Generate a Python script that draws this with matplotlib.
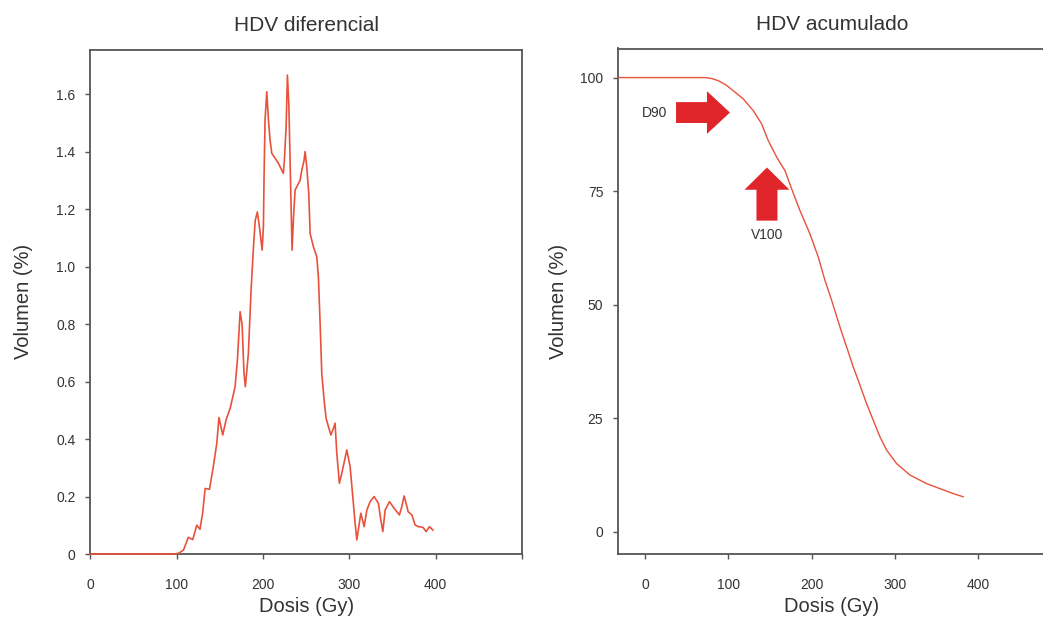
import matplotlib
matplotlib.use("Agg")
import matplotlib.pyplot as plt
from matplotlib.patches import FancyArrow

plt.rcParams['font.family'] = ['Liberation Sans', 'DejaVu Sans']

# ---------------- data ----------------
diff_dose = [0, 96, 102, 108, 113.5, 118.7, 123.3, 127, 130, 133, 138, 142.5, 146.5, 149,
             153.4, 157.2, 162, 167.7, 170.4, 173.5, 175.8, 178, 179.6, 183.1, 186.2, 189,
             191, 193.5, 196.2, 199, 200.5, 201.3, 202.4, 204.4, 206.3, 208.2, 210.2, 217.9,
             223.6, 224.8, 226.8, 228.3, 229.9, 231.4, 232.9, 233.7, 235.2, 237.2, 239.2, 243,
             245, 247.6, 248.8, 250.7, 253, 254.6, 258.4, 262.3, 264.2, 266.2, 268.1, 270.8,
             273.1, 278.6, 281.6, 283.5, 285.5, 288.5, 291.3, 297.1, 300.9, 304, 306.7, 308.7,
             311, 313.3, 317.2, 320.3, 324.1, 328.7, 333.7, 336.5, 338.8, 341.5, 346.5, 351.9,
             358, 360.8, 363.5, 365.8, 368.1, 372.4, 376.2, 380, 385.2, 389, 392.8, 396.8]
diff_vol = [0, 0, 0.002, 0.014, 0.058, 0.05, 0.10, 0.086, 0.14, 0.228, 0.225, 0.304, 0.385, 0.475,
            0.414, 0.466, 0.507, 0.582, 0.675, 0.843, 0.80, 0.628, 0.582, 0.698, 0.918, 1.069,
            1.16, 1.19, 1.13, 1.057, 1.14, 1.324, 1.51, 1.608, 1.51, 1.44, 1.394, 1.359,
            1.324, 1.37, 1.486, 1.666, 1.568, 1.37, 1.162, 1.057, 1.162, 1.266, 1.278, 1.30,
            1.336, 1.37, 1.40, 1.347, 1.255, 1.115, 1.069, 1.034, 0.964, 0.80, 0.628, 0.536,
            0.472, 0.414, 0.437, 0.455, 0.35, 0.246, 0.281, 0.362, 0.304, 0.20, 0.107, 0.049,
            0.095, 0.142, 0.095, 0.153, 0.182, 0.20, 0.176, 0.118, 0.078, 0.153, 0.182, 0.159,
            0.136, 0.165, 0.202, 0.176, 0.147, 0.136, 0.101, 0.095, 0.093, 0.078, 0.095, 0.083]

cum_dose = [-32, 72, 80, 88, 97, 105.9, 117.9, 129.9, 139.9, 147.9, 157.9, 167.9, 175.9, 185.9,
            197.8, 207.8, 215.8, 223.8, 233.8, 241.8, 249.8, 257.8, 265.8, 273.7, 281.8,
            289.7, 301.8, 317.7, 337.7, 353.7, 369.7, 381.7]
cum_vol = [100, 100, 99.8, 99.3, 98.4, 97.1, 95.3, 92.7, 89.8, 86.1, 82.5, 79.5, 75.5, 70.7,
           65.6, 60.5, 55.4, 51.0, 45.1, 40.7, 36.3, 32.3, 28.2, 24.6, 20.9,
           18.0, 15.0, 12.5, 10.6, 9.5, 8.4, 7.7]

left_yticks = [0, 0.2, 0.4, 0.6, 0.8, 1.0, 1.2, 1.4, 1.6]
left_yticklabels = ['0', '0.2', '0.4', '0.6', '0.8', '1.0', '1.2', '1.4', '1.6']
left_xticks = [0, 100, 200, 300, 400, 500]
left_xticklabels = ['0', '100', '200', '300', '400', '']
right_yticks = [0, 25, 50, 75, 100]
right_xticks = [0, 100, 200, 300, 400]

titles = ['HDV diferencial', 'HDV acumulado']
xlabel = 'Dosis (Gy)'
ylabel = 'Volumen (%)'

# ---------------- style ----------------
LINE = '#e8523c'
ARROW = '#e0262a'
SPINE = '#555555'
TEXT = '#333333'

fig = plt.figure(figsize=(10.43, 6.19), dpi=100)
W, H = 1043, 619
ax1 = fig.add_axes([90.3 / W, 1 - 554 / H, (522 - 90.3) / W, (554 - 49.5) / H])
ax2 = fig.add_axes([618 / W, 1 - 554 / H, (1046 - 618) / W, (554 - 48.5) / H])

for ax in (ax1, ax2):
    for s in ax.spines.values():
        s.set_color(SPINE)
        s.set_linewidth(1.3)
    ax.tick_params(direction='out', length=3.6, width=1, colors=SPINE,
                   labelcolor=TEXT, labelsize=10)
    ax.tick_params(axis='x', pad=13.5)
    ax.tick_params(axis='y', pad=7)

# left: differential DVH
ax1.plot(diff_dose, diff_vol, color=LINE, lw=1.2, clip_on=False, zorder=3)
ax1.set_xlim(0, 500)
ax1.set_ylim(0, 1.755)
ax1.set_xticks(left_xticks)
ax1.set_xticklabels(left_xticklabels)
ax1.set_yticks(left_yticks)
ax1.set_yticklabels(left_yticklabels)
ax1.set_title(titles[0], fontsize=15, color=TEXT, pad=13)
ax1.set_xlabel(xlabel, fontsize=14.5, color=TEXT, labelpad=4)
ax1.set_ylabel(ylabel, fontsize=14.5, color=TEXT, labelpad=17)

# right: cumulative DVH
ax2.plot(cum_dose, cum_vol, color=LINE, lw=1.0, zorder=3)
ax2.set_xlim(-32.4, 481)
ax2.set_ylim(-4.9, 106.4)
ax2.set_xticks(right_xticks)
ax2.set_yticks(right_yticks)
ax2.set_title(titles[1], fontsize=15, color=TEXT, pad=13)
ax2.set_xlabel(xlabel, fontsize=14.5, color=TEXT, labelpad=4)
ax2.set_ylabel(ylabel, fontsize=14.5, color=TEXT, labelpad=9)

# annotation arrows
ax2.add_patch(FancyArrow(37.2, 92.3, 64.7, 0, width=4.6, head_width=9.4,
                         head_length=27.6, length_includes_head=True,
                         color=ARROW, lw=0))
ax2.add_patch(FancyArrow(146.3, 68.5, 0, 11.7, width=25.2, head_width=54,
                         head_length=4.9, length_includes_head=True,
                         color=ARROW, lw=0))
ax2.text(12, 92.3, 'D90', fontsize=10, color=TEXT, ha='center', va='center')
ax2.text(145.9, 65.3, 'V100', fontsize=10, color=TEXT, ha='center', va='center')

fig.savefig('out.png', dpi=100)
